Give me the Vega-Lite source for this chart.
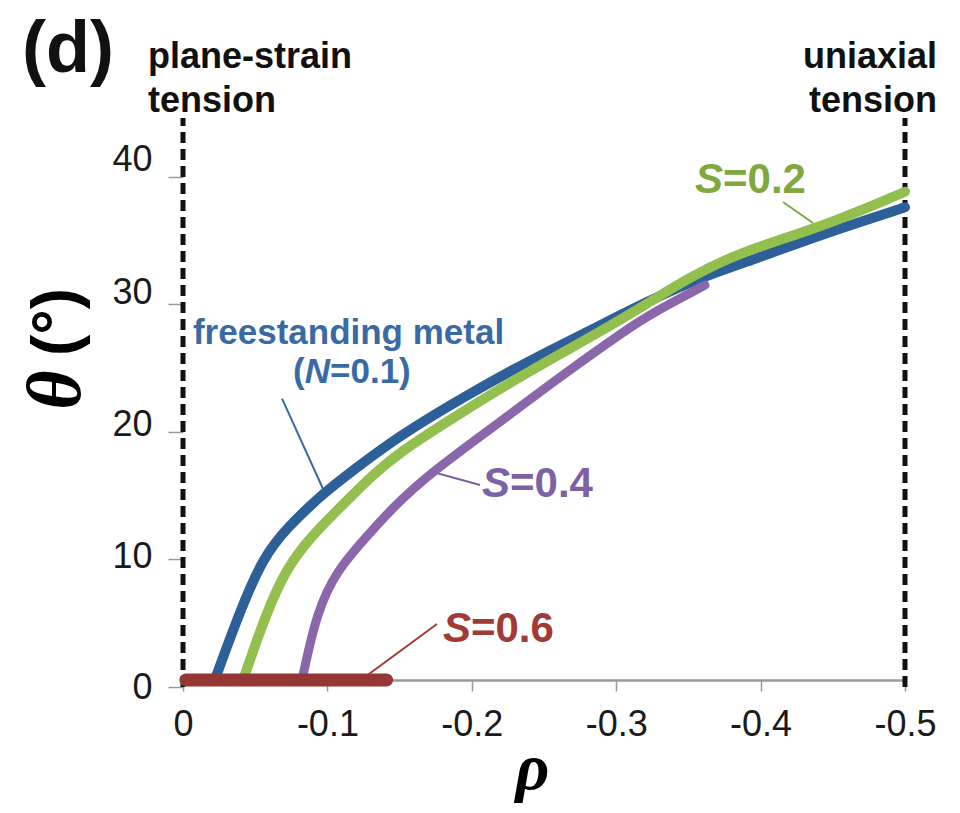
{
  "$schema": "https://vega.github.io/schema/vega-lite/v6.json",
  "autosize": {"type": "none"},
  "padding": {"left": 183, "top": 118, "right": 55, "bottom": 126},
  "width": 722,
  "height": 569,
  "background": "white",
  "config": {"view": {"stroke": null}, "font": "Liberation Sans"},
  "datasets": {
    "curves": [
      {"series": "N=0.1", "rho": -0.022, "theta": 0.55},
      {"series": "N=0.1", "rho": -0.0395, "theta": 5.97},
      {"series": "N=0.1", "rho": -0.0554, "theta": 10.14},
      {"series": "N=0.1", "rho": -0.072, "theta": 12.49},
      {"series": "N=0.1", "rho": -0.097, "theta": 15.17},
      {"series": "N=0.1", "rho": -0.1177, "theta": 16.97},
      {"series": "N=0.1", "rho": -0.1482, "theta": 19.57},
      {"series": "N=0.1", "rho": -0.1939, "theta": 22.71},
      {"series": "N=0.1", "rho": -0.2403, "theta": 25.62},
      {"series": "N=0.1", "rho": -0.2867, "theta": 28.21},
      {"series": "N=0.1", "rho": -0.3234, "theta": 30.33},
      {"series": "N=0.1", "rho": -0.363, "theta": 32.3},
      {"series": "N=0.1", "rho": -0.3947, "theta": 33.48},
      {"series": "N=0.1", "rho": -0.4411, "theta": 35.44},
      {"series": "N=0.1", "rho": -0.5, "theta": 37.6},
      {"series": "S=0.2", "rho": -0.0416, "theta": 0.55},
      {"series": "S=0.2", "rho": -0.0582, "theta": 5.97},
      {"series": "S=0.2", "rho": -0.072, "theta": 9.35},
      {"series": "S=0.2", "rho": -0.088, "theta": 11.71},
      {"series": "S=0.2", "rho": -0.1087, "theta": 14.07},
      {"series": "S=0.2", "rho": -0.1295, "theta": 16.4},
      {"series": "S=0.2", "rho": -0.1482, "theta": 18.3},
      {"series": "S=0.2", "rho": -0.1939, "theta": 21.6},
      {"series": "S=0.2", "rho": -0.2403, "theta": 24.8},
      {"series": "S=0.2", "rho": -0.2867, "theta": 27.7},
      {"series": "S=0.2", "rho": -0.3234, "theta": 30.18},
      {"series": "S=0.2", "rho": -0.349, "theta": 31.98},
      {"series": "S=0.2", "rho": -0.3837, "theta": 34.03},
      {"series": "S=0.2", "rho": -0.4411, "theta": 35.99},
      {"series": "S=0.2", "rho": -0.5, "theta": 38.82},
      {"series": "S=0.4", "rho": -0.0824, "theta": 0.55},
      {"series": "S=0.4", "rho": -0.0928, "theta": 5.97},
      {"series": "S=0.4", "rho": -0.1066, "theta": 9.12},
      {"series": "S=0.4", "rho": -0.1247, "theta": 11.47},
      {"series": "S=0.4", "rho": -0.1434, "theta": 13.87},
      {"series": "S=0.4", "rho": -0.1711, "theta": 16.77},
      {"series": "S=0.4", "rho": -0.2175, "theta": 20.6},
      {"series": "S=0.4", "rho": -0.2632, "theta": 24.5},
      {"series": "S=0.4", "rho": -0.3096, "theta": 28.2},
      {"series": "S=0.4", "rho": -0.3234, "theta": 29.2},
      {"series": "S=0.4", "rho": -0.3615, "theta": 31.5},
      {"series": "S=0.6", "rho": -0.002, "theta": 0.55},
      {"series": "S=0.6", "rho": -0.141, "theta": 0.55}
    ],
    "bounds": [
      {"rho": 0, "theta": 0, "theta2": 44.6},
      {"rho": -0.5, "theta": 0, "theta2": 44.6}
    ],
    "leaders": [
      {"series": "N=0.1", "rho": -0.0686, "theta": 22.6, "rho2": -0.097, "theta2": 15.52},
      {"series": "S=0.2", "rho": -0.4155, "theta": 38.02, "rho2": -0.4363, "theta2": 36.37},
      {"series": "S=0.4", "rho": -0.1731, "theta": 16.85, "rho2": -0.2057, "theta2": 15.83},
      {"series": "S=0.6", "rho": -0.126, "theta": 0.78, "rho2": -0.1759, "theta2": 4.94}
    ],
    "headers": [
      {"label": "plane-strain", "rho": 0.0242, "theta": 48.52, "side": "left"},
      {"label": "tension", "rho": 0.0242, "theta": 45.07, "side": "left"},
      {"label": "uniaxial", "rho": -0.5222, "theta": 48.52, "side": "right"},
      {"label": "tension", "rho": -0.5222, "theta": 45.07, "side": "right"}
    ],
    "serieslabels": [
      {"series": "S=0.2", "sym": "S", "rest": "=0.2", "rho": -0.374, "theta": 38.72},
      {"series": "S=0.4", "sym": "S", "rest": "=0.4", "rho": -0.2265, "theta": 14.89},
      {"series": "S=0.6", "sym": "S", "rest": "=0.6", "rho": -0.1994, "theta": 3.53}
    ]
  },
  "encoding": {
    "x": {
      "field": "rho",
      "type": "quantitative",
      "scale": {"domain": [0, -0.5], "nice": false, "zero": false},
      "axis": {
        "values": [0, -0.1, -0.2, -0.3, -0.4, -0.5],
        "labelExpr": "datum.value == 0 ? '0' : '-' + format(-datum.value, '.1f')",
        "grid": false,
        "offset": -7,
        "domainColor": "#9a9a9a",
        "domainWidth": 2.5,
        "tickColor": "#9a9a9a",
        "tickWidth": 1.5,
        "tickSize": 11,
        "labelFont": "Liberation Sans",
        "labelFontSize": 36,
        "labelColor": "#1a1a1a",
        "labelPadding": 16,
        "labelFlush": false,
        "labelOverlap": false,
        "title": "ρ",
        "titleFont": "Liberation Serif",
        "titleFontSize": 66,
        "titleFontStyle": "italic",
        "titleFontWeight": "bold",
        "titleColor": "#000000",
        "titleX": 349,
        "titleY": 108,
        "titleAlign": "center",
        "titleBaseline": "alphabetic"
      }
    },
    "y": {
      "field": "theta",
      "type": "quantitative",
      "scale": {"domain": [0, 44.6], "nice": false, "zero": false},
      "axis": {
        "values": [0, 10, 20, 30, 40],
        "grid": false,
        "domain": false,
        "tickColor": "#9a9a9a",
        "tickWidth": 1.5,
        "tickSize": 15,
        "labelFont": "Liberation Sans",
        "labelFontSize": 36,
        "labelColor": "#1a1a1a",
        "labelPadding": 16,
        "labelBaseline": "middle",
        "labelFlush": false,
        "labelOverlap": false,
        "labelOffset": {
          "condition": [
            {"test": "datum.value == 40", "value": -17},
            {"test": "datum.value == 30", "value": -12},
            {"test": "datum.value == 20", "value": -7},
            {"test": "datum.value == 10", "value": -3}
          ],
          "value": 0
        },
        "title": null
      }
    }
  },
  "layer": [
    {
      "data": {"name": "bounds"},
      "mark": {"type": "rule", "color": "#111111", "strokeWidth": 5, "strokeDash": [11, 6]},
      "encoding": {"y2": {"field": "theta2"}}
    },
    {
      "data": {"name": "leaders"},
      "mark": {"type": "rule", "strokeWidth": 2},
      "encoding": {
        "x2": {"field": "rho2"},
        "y2": {"field": "theta2"},
        "color": {"field": "series", "type": "nominal", "legend": null,
          "scale": {"domain": ["N=0.1", "S=0.2", "S=0.4", "S=0.6"], "range": ["#3b6aa3", "#7fa83f", "#7d62a3", "#a23a36"]}}
      }
    },
    {
      "data": {"name": "curves"},
      "transform": [{"filter": "datum.series == 'N=0.1'"}],
      "mark": {"type": "line", "color": "#2d5f98", "strokeWidth": 10, "strokeCap": "round", "strokeJoin": "round", "interpolate": "basis"},
      "encoding": {"order": {"field": "rho", "sort": "descending"}}
    },
    {
      "data": {"name": "curves"},
      "transform": [{"filter": "datum.series == 'S=0.4'"}],
      "mark": {"type": "line", "color": "#8a67ab", "strokeWidth": 9, "strokeCap": "round", "strokeJoin": "round", "interpolate": "basis"},
      "encoding": {"order": {"field": "rho", "sort": "descending"}}
    },
    {
      "data": {"name": "curves"},
      "transform": [{"filter": "datum.series == 'S=0.2'"}],
      "mark": {"type": "line", "color": "#93bf4e", "strokeWidth": 10, "strokeCap": "round", "strokeJoin": "round", "interpolate": "basis"},
      "encoding": {"order": {"field": "rho", "sort": "descending"}}
    },
    {
      "data": {"name": "curves"},
      "transform": [{"filter": "datum.series == 'S=0.6'"}],
      "mark": {"type": "line", "color": "#953735", "strokeWidth": 13, "strokeCap": "round"},
      "encoding": {"order": {"field": "rho", "sort": "descending"}}
    },
    {
      "data": {"name": "headers"},
      "transform": [{"filter": "datum.side == 'left'"}],
      "mark": {"type": "text", "align": "left", "baseline": "alphabetic", "font": "Liberation Sans", "fontWeight": "bold", "fontSize": 36, "color": "#111111"},
      "encoding": {"text": {"field": "label"}}
    },
    {
      "data": {"name": "headers"},
      "transform": [{"filter": "datum.side == 'right'"}],
      "mark": {"type": "text", "align": "right", "baseline": "alphabetic", "font": "Liberation Sans", "fontWeight": "bold", "fontSize": 36, "color": "#111111"},
      "encoding": {"text": {"field": "label"}}
    },
    {
      "data": {"values": [{"label": "(d)", "rho": 0.1115, "theta": 48.2}]},
      "mark": {"type": "text", "align": "left", "baseline": "alphabetic", "font": "Liberation Sans", "fontWeight": "bold", "fontSize": 72, "color": "#111111"},
      "encoding": {"text": {"field": "label"}}
    },
    {
      "data": {"values": [{"label": "θ", "rho": 0.0713, "theta": 23.28}]},
      "mark": {"type": "text", "align": "center", "baseline": "alphabetic", "angle": 270, "font": "Liberation Serif", "fontWeight": "bold", "fontStyle": "italic", "fontSize": 76, "color": "#000000"},
      "encoding": {"text": {"field": "label"}}
    },
    {
      "data": {"values": [{"label": "(°)", "rho": 0.0734, "theta": 28.61}]},
      "mark": {"type": "text", "align": "center", "baseline": "alphabetic", "angle": 270, "font": "Liberation Sans", "fontWeight": "bold", "fontSize": 64, "color": "#000000"},
      "encoding": {"text": {"field": "label"}}
    },
    {
      "data": {"values": [{"label": "freestanding metal", "rho": -0.0069, "theta": 26.88}]},
      "mark": {"type": "text", "align": "left", "baseline": "alphabetic", "font": "Liberation Sans", "fontWeight": "bold", "fontSize": 35, "color": "#3a6aa5"},
      "encoding": {"text": {"field": "label"}}
    },
    {
      "data": {"values": [{"label": "(", "rho": -0.0762, "theta": 23.83}, {"label": "=0.1)", "rho": -0.1018, "theta": 23.83}]},
      "mark": {"type": "text", "align": "left", "baseline": "alphabetic", "font": "Liberation Sans", "fontWeight": "bold", "fontSize": 35, "color": "#3a6aa5"},
      "encoding": {"text": {"field": "label"}}
    },
    {
      "data": {"values": [{"label": "N", "rho": -0.0843, "theta": 23.83}]},
      "mark": {"type": "text", "align": "left", "baseline": "alphabetic", "font": "Liberation Sans", "fontWeight": "bold", "fontStyle": "italic", "fontSize": 35, "color": "#3a6aa5"},
      "encoding": {"text": {"field": "label"}}
    },
    {
      "data": {"name": "serieslabels"},
      "mark": {"type": "text", "align": "right", "baseline": "alphabetic", "font": "Liberation Sans", "fontWeight": "bold", "fontStyle": "italic", "fontSize": 42},
      "encoding": {
        "text": {"field": "sym"},
        "color": {"field": "series", "type": "nominal", "legend": null,
          "scale": {"domain": ["N=0.1", "S=0.2", "S=0.4", "S=0.6"], "range": ["#3a6aa5", "#76a03a", "#5c4a8a", "#a23a36"]}}
      }
    },
    {
      "data": {"name": "serieslabels"},
      "mark": {"type": "text", "align": "left", "baseline": "alphabetic", "font": "Liberation Sans", "fontWeight": "bold", "fontSize": 42},
      "encoding": {
        "text": {"field": "rest"},
        "color": {"field": "series", "type": "nominal", "legend": null}
      }
    }
  ]
}
